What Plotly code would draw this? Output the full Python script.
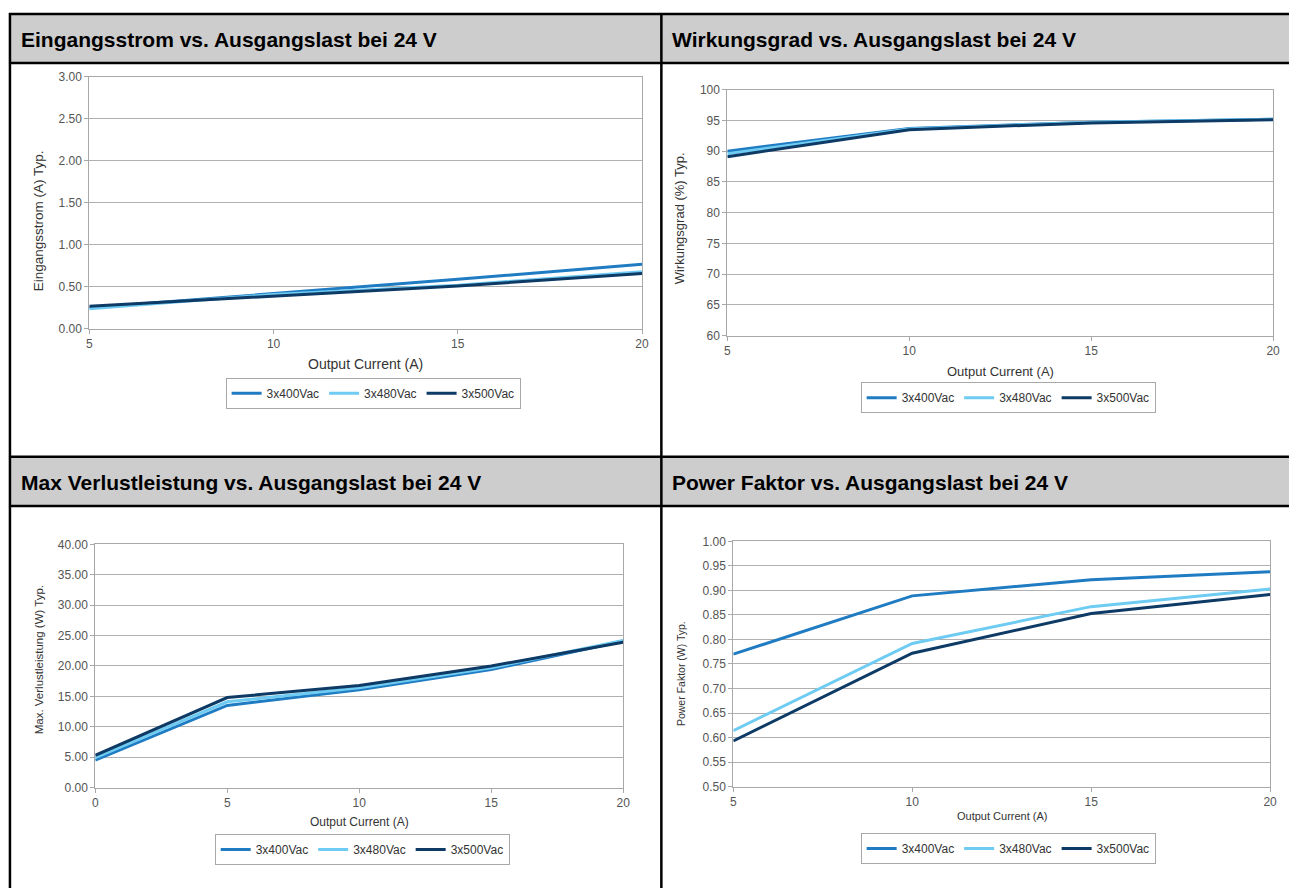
import plotly.graph_objects as go

# ---------------- data ----------------
series_names = ["3x400Vac", "3x480Vac", "3x500Vac"]
series_colors = ["#1f7cc2", "#6ecbf2", "#0e3a66"]

panel_titles = [
    "Eingangsstrom vs. Ausgangslast bei 24 V",
    "Wirkungsgrad vs. Ausgangslast bei 24 V",
    "Max Verlustleistung vs. Ausgangslast bei 24 V",
    "Power Faktor vs. Ausgangslast bei 24 V",
]
y_titles = [
    "Eingangsstrom (A) Typ.",
    "Wirkungsgrad (%) Typ.",
    "Max. Verlustleistung (W) Typ.",
    "Power Faktor (W) Typ.",
]
x_title = "Output Current (A)"

# Eingangsstrom
current_x = [5, 10, 15, 20]
current_400 = [0.25, 0.42, 0.59, 0.77]
current_480 = [0.24, 0.41, 0.52, 0.68]
current_500 = [0.27, 0.39, 0.51, 0.66]

# Wirkungsgrad
eff_x = [5, 10, 15, 20]
eff_400 = [90.0, 93.7, 94.7, 95.2]
eff_480 = [89.6, 93.6, 94.7, 95.2]
eff_500 = [89.1, 93.5, 94.6, 95.1]

# Max Verlustleistung
loss_x = [0, 5, 10, 15, 20]
loss_400 = [4.5, 13.5, 16.1, 19.4, 24.1]
loss_480 = [4.9, 14.1, 16.4, 19.7, 24.2]
loss_500 = [5.3, 14.8, 16.8, 20.0, 23.9]

# Power Faktor
pf_x = [5, 10, 15, 20]
pf_400 = [0.77, 0.889, 0.922, 0.938]
pf_480 = [0.614, 0.792, 0.867, 0.903]
pf_500 = [0.593, 0.772, 0.853, 0.892]

# ---------------- layout helpers ----------------
W, H = 1291, 890


def px(x):
    return x / W


def py(y):
    return 1 - y / H


FONT = "Arial, Liberation Sans, sans-serif"

fig = go.Figure()

panels = [
    dict(x=current_x, ys=[current_400, current_480, current_500],
         box=(87, 644, 71, 327), yr=[0, 3], ydt=0.5, yfmt=".2f", xr=[5, 20],
         ytx=36, yty=217, ytsize=13.5, xty=363, xtsize=14, leg=(373, 392.5), tick=12),
    dict(x=eff_x, ys=[eff_400, eff_480, eff_500],
         box=(730, 1280, 84, 334), yr=[60, 100], ydt=5, yfmt="d", xr=[5, 20],
         ytx=682, yty=215, ytsize=13, xty=370, xtsize=13, leg=(1013, 397), tick=12),
    dict(x=loss_x, ys=[loss_400, loss_480, loss_500],
         box=(93, 625, 546, 793), yr=[0, 40], ydt=5, yfmt=".2f", xr=[0, 20],
         ytx=36, yty=663, ytsize=11.5, xty=828, xtsize=12, leg=(362, 856), tick=12),
    dict(x=pf_x, ys=[pf_400, pf_480, pf_500],
         box=(736, 1277, 543, 792), yr=[0.5, 1.0], ydt=0.05, yfmt=".2f", xr=[5, 20],
         ytx=684, yty=677, ytsize=10.5, xty=822, xtsize=11, leg=(1013, 855), tick=12),
]

annotations = []
shapes = []

for i, p in enumerate(panels):
    n = "" if i == 0 else str(i + 1)
    legname = "legend" if i == 0 else f"legend{i + 1}"
    for name, color, yv in zip(series_names, series_colors, p["ys"]):
        fig.add_trace(go.Scatter(
            x=p["x"], y=yv, name=name, mode="lines",
            line=dict(color=color, width=3),
            xaxis="x" + n, yaxis="y" + n, legend=legname,
            hoverinfo="x+y+name",
        ))
    x0, x1, y0, y1 = p["box"]
    axis_common = dict(
        showline=True, linecolor="#a8a8a8", linewidth=1, mirror=True,
        ticks="outside", ticklen=4, tickcolor="#a8a8a8",
        tickfont=dict(family=FONT, size=p["tick"], color="#555555"),
        zeroline=False, fixedrange=True,
    )
    fig.update_layout({
        "xaxis" + n: dict(axis_common, domain=[px(x0), px(x1)], range=p["xr"],
                          dtick=5, tick0=0, showgrid=False,
                          anchor="y" + n),
        "yaxis" + n: dict(axis_common, domain=[py(y1), py(y0)], range=p["yr"],
                          dtick=p["ydt"], tick0=0, tickformat=p["yfmt"],
                          showgrid=True, gridcolor="#b0b0b0", gridwidth=1,
                          anchor="x" + n),
        legname: dict(
            orientation="h", x=px(p["leg"][0]), y=py(p["leg"][1]),
            xanchor="center", yanchor="middle",
            bordercolor="#a8a8a8", borderwidth=1, bgcolor="white",
            font=dict(family=FONT, size=12, color="#333333"),
            itemwidth=30,
        ),
    })
    annotations.append(dict(
        text=x_title, x=px((x0 + x1) / 2), y=py(p["xty"]), xref="paper", yref="paper",
        xanchor="center", yanchor="middle", showarrow=False,
        font=dict(family=FONT, size=p["xtsize"], color="#333333"),
    ))
    annotations.append(dict(
        text=y_titles[i], x=px(p["ytx"]), y=py(p["yty"]), xref="paper", yref="paper",
        xanchor="center", yanchor="middle", showarrow=False, textangle=-90,
        font=dict(family=FONT, size=p["ytsize"], color="#333333"),
    ))

# ---------------- table frame ----------------
header_bands = [(7, 57), (457, 507)]
for (ya, yb) in header_bands:
    shapes.append(dict(type="rect", xref="paper", yref="paper",
                       x0=px(7), x1=px(W + 5), y0=py(yb), y1=py(ya),
                       fillcolor="#cdcdcd", line=dict(width=0), layer="below"))
for yl in [7, 57, 457, 507]:
    shapes.append(dict(type="line", xref="paper", yref="paper",
                       x0=px(6), x1=px(W + 5), y0=py(yl), y1=py(yl),
                       line=dict(color="black", width=2.5)))
for xl in [7, 663.5]:
    shapes.append(dict(type="line", xref="paper", yref="paper",
                       x0=px(xl), x1=px(xl), y0=py(6), y1=py(H + 5),
                       line=dict(color="black", width=2.5)))

title_pos = [(16, 33), (672, 33), (16, 483), (672, 483)]
for t, (tx, ty) in zip(panel_titles, title_pos):
    annotations.append(dict(
        text="<b>" + t + "</b>", x=px(tx), y=py(ty), xref="paper", yref="paper",
        xanchor="left", yanchor="middle", showarrow=False,
        font=dict(family=FONT, size=21, color="black"),
    ))

fig.update_layout(
    width=W, height=H,
    margin=dict(l=0, r=0, t=0, b=0),
    paper_bgcolor="white", plot_bgcolor="white",
    annotations=annotations, shapes=shapes,
    showlegend=True,
)

fig.write_html(
    "out.html",
    config={"displayModeBar": False},
    post_script="document.body.style.margin='0';document.body.style.overflow='hidden';",
)
